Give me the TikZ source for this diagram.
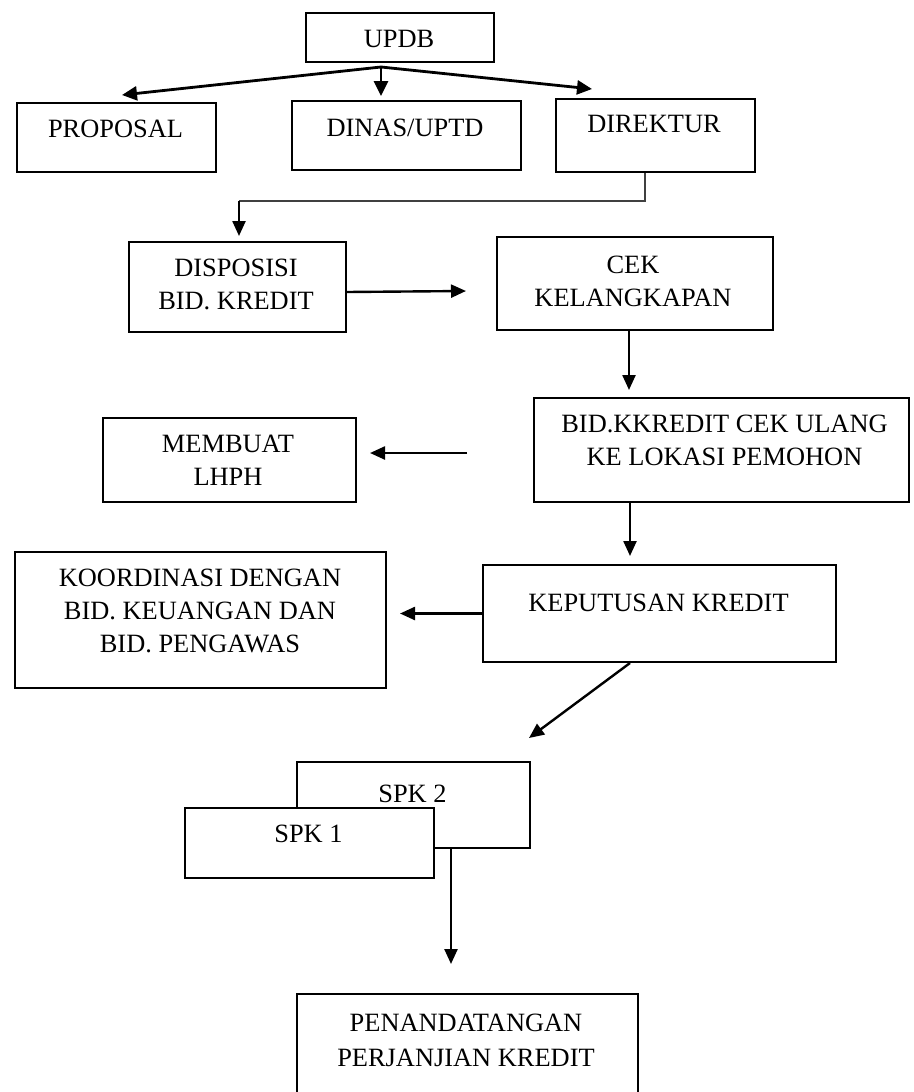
\documentclass[tikz,border=0pt]{standalone}
\usepackage{fontspec}
\setmainfont{Liberation Serif}
\usetikzlibrary{arrows.meta}
\tikzset{
  box/.style={draw, line width=2pt, inner sep=0pt, anchor=north west, fill=white},
  txt/.style={anchor=north, inner sep=0pt, align=center, font=\fontsize{26.4}{33}\selectfont},
  arr/.style={line width=2.4pt, -{Triangle[length=15pt,width=13pt]}},
  fanarr/.style={line width=2.8pt, -{Triangle[length=15pt,width=14pt]}},
  thinline/.style={line width=1.2pt, black!75},
}
\begin{document}
\begin{tikzpicture}[x=1pt,y=-1pt]
\useasboundingbox (0,0) rectangle (913,1092);
\fill[white] (0,0) rectangle (913,1092);
\clip (0,0) rectangle (913,1092);
% boxes
\node[box, minimum width=188pt, minimum height=49pt] (updb) at (305,12) {};
\node[box, minimum width=199pt, minimum height=69pt] (prop) at (16,102) {};
\node[box, minimum width=229pt, minimum height=69pt] (dinas) at (291,100) {};
\node[box, minimum width=199pt, minimum height=73pt] (dir) at (555,98) {};
\node[box, minimum width=217pt, minimum height=90pt] (disp) at (128,241) {};
\node[box, minimum width=276pt, minimum height=93pt] (cek) at (496,236) {};
\node[box, minimum width=375pt, minimum height=104pt] (bid) at (533,397) {};
\node[box, minimum width=253pt, minimum height=84pt] (memb) at (102,417) {};
\node[box, minimum width=353pt, minimum height=97pt] (kep) at (482,564) {};
\node[box, minimum width=371pt, minimum height=136pt] (koord) at (14,551) {};
\node[box, minimum width=233pt, minimum height=86pt] (spk2) at (296,761) {};
\node[box, minimum width=249pt, minimum height=70pt] (spk1) at (184,807) {};
\node[box, minimum width=341pt, minimum height=120pt] (pen) at (296,993) {};
% texts
\node[txt] (updbt) at (399,30.5) {UPDB};
\node[txt] (propt) at (115.5,119.5) {PROPOSAL};
\node[txt] (dinast) at (405,118.5) {DINAS/UPTD};
\node[txt] (dirt) at (654,115.5) {DIREKTUR};
\node[txt] (dispt) at (236,258.5) {DISPOSISI\\BID. KREDIT};
\node[txt] (cekt) at (633,255.5) {CEK\\KELANGKAPAN};
\node[txt] (bidt) at (724.5,414.5) {BID.KKREDIT CEK ULANG\\KE LOKASI PEMOHON};
\node[txt] (membt) at (228,434.5) {MEMBUAT\\LHPH};
\node[txt] (kept) at (658.5,593.5) {KEPUTUSAN KREDIT};
\node[txt] (koordt) at (200,568.5) {KOORDINASI DENGAN\\BID. KEUANGAN DAN\\BID. PENGAWAS};
\node[txt] (spk2t) at (412.5,784.5) {SPK 2};
\node[txt] (spk1t) at (308.5,824.5) {SPK 1};
\node[txt] (pent) at (466,1013.5) {PENANDATANGAN\\[2pt]PERJANJIAN KREDIT};
% coordinates
\coordinate (fan) at (381,67);
\coordinate (tipP) at (122,95);
\coordinate (tipD) at (381,96);
\coordinate (tipR) at (592,89);
\coordinate (d1) at (645,201);
\coordinate (d2) at (239,201);
\coordinate (a1) at (466,291);
\coordinate (c0) at (629,0);
\coordinate (m0) at (467,453);
\coordinate (k0) at (630,0);
\coordinate (s2tip) at (529,738);
\coordinate (p0) at (451,0);
% connectors
\draw[fanarr] (fan) -- (tipP);
\draw[fanarr] (fan) -- (tipD);
\draw[fanarr] (fan) -- (tipR);
\draw[thinline] (dir.south -| d1) -- (d1) -- (d2);
\draw[arr, shorten >=5pt] (d2) -- (d2 |- disp.north);
\draw[arr] ([yshift=-5pt]disp.east) -- (a1);
\draw[arr, shorten >=7pt] (c0 |- cek.south) -- (c0 |- bid.north);
\draw[arr, shorten >=13pt] (m0) -- (m0 -| memb.east);
\draw[arr, shorten >=8pt] (k0 |- bid.south) -- (k0 |- kep.north);
\draw[arr, shorten >=13pt] (kep.west) -- (kep.west -| koord.east);
\draw[arr] (k0 |- kep.south) -- (s2tip);
\draw[arr, shorten >=29pt] (p0 |- spk2.south) -- (p0 |- pen.north);
\end{tikzpicture}
\end{document}
